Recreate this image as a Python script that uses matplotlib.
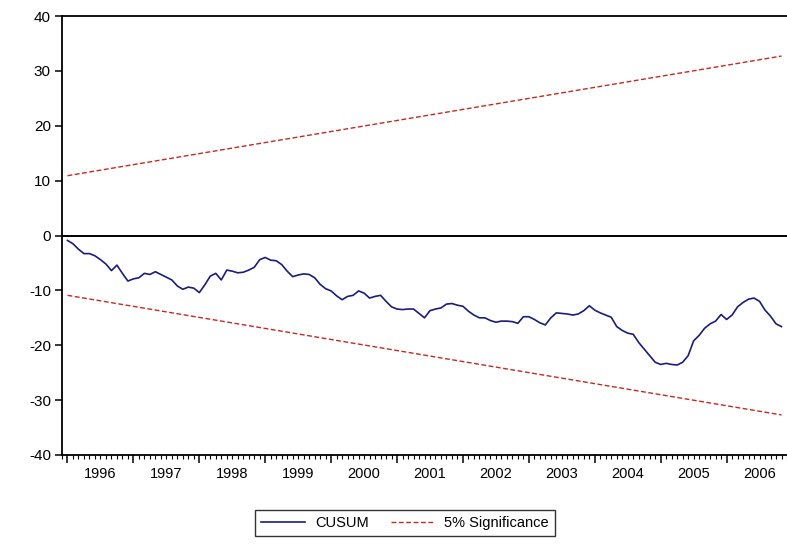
import numpy as np
import matplotlib
matplotlib.use('Agg')
import matplotlib.pyplot as plt
from matplotlib.lines import Line2D

plt.rcParams['font.family'] = ['Liberation Sans', 'DejaVu Sans']
plt.rcParams['axes.unicode_minus'] = False

# monthly CUSUM of recursive residuals, 1996M1 - 2006M11
start_year = 1996
cusum = [
    -0.9, -1.5, -2.5, -3.3, -3.3, -3.7, -4.4, -5.2, -6.4, -5.4, -6.9, -8.3,
    -7.9, -7.7, -6.9, -7.1, -6.6, -7.1, -7.6, -8.1, -9.2, -9.8, -9.4, -9.6,
    -10.4, -9.0, -7.4, -6.9, -8.1, -6.3, -6.5, -6.8, -6.7, -6.3, -5.8, -4.4,
    -4.0, -4.5, -4.6, -5.3, -6.5, -7.5, -7.2, -7.0, -7.1, -7.7, -8.9, -9.7,
    -10.1, -11.0, -11.7, -11.1, -10.9, -10.1, -10.5, -11.4, -11.1, -10.9, -12.0, -13.0,
    -13.4, -13.5, -13.4, -13.4, -14.2, -15.0, -13.7, -13.4, -13.2, -12.5, -12.4, -12.7,
    -12.9, -13.8, -14.5, -15.0, -15.0, -15.5, -15.8, -15.6, -15.6, -15.7, -16.0, -14.8,
    -14.8, -15.3, -15.9, -16.3, -15.0, -14.1, -14.2, -14.3, -14.5, -14.3, -13.7, -12.8,
    -13.6, -14.1, -14.5, -14.9, -16.6, -17.3, -17.8, -18.0, -19.5, -20.7, -21.9, -23.1,
    -23.5, -23.3, -23.5, -23.6, -23.1, -21.9, -19.2, -18.2, -16.9, -16.1, -15.6, -14.4,
    -15.3, -14.5, -13.0, -12.2, -11.6, -11.4, -12.0, -13.6, -14.7, -16.1, -16.6,
]
# 5% significance bounds at the first and last observation
upper_bound = [10.9, 32.7]
lower_bound = [-10.9, -32.7]
years = list(range(1996, 2007))

t = start_year + np.arange(len(cusum)) / 12.0
t_ends = [t[0], t[-1]]

fig = plt.figure(figsize=(7.87, 5.52), dpi=100)
ax = fig.add_axes([62 / 787, 1 - 455 / 552, 1 - 62 / 787, (455 - 16) / 552])

ax.axhline(0, color='black', lw=1.4, zorder=1)
ax.plot(t, cusum, color='#1c1c7a', lw=1.2, zorder=3)
red = '#c22a28'
ax.plot(t_ends, upper_bound, color=red, lw=1.0, dashes=(3.5, 1.8), zorder=2)
ax.plot(t_ends, lower_bound, color=red, lw=1.0, dashes=(3.5, 1.8), zorder=2)

ax.set_xlim(1995.929, 2006.88)
ax.set_ylim(-40, 40)
ax.set_yticks(range(-40, 41, 10))

# year ticks at the start of each year, monthly minor ticks
ax.set_xticks(years)
ax.set_xticklabels([])
ax.set_xticks(start_year + np.arange(-1, 132) / 12.0, minor=True)
ax.tick_params(axis='x', which='major', direction='out', length=6, width=1.1)
ax.tick_params(axis='x', which='minor', direction='out', length=3, width=0.8)
ax.tick_params(axis='y', direction='out', length=5, width=1.1, labelsize=11,
               colors='black', pad=3)

# year labels centred in each year
sec = ax.secondary_xaxis('bottom')
sec.set_xticks([y + 0.5 for y in years])
sec.set_xticklabels([str(y) for y in years])
sec.tick_params(length=0, labelsize=10.5, pad=9)
for s in sec.spines.values():
    s.set_visible(False)

for side in ['left', 'top', 'bottom']:
    ax.spines[side].set_linewidth(1.3)
ax.spines['right'].set_visible(False)

handles = [Line2D([], [], color='#1c1c7a', lw=1.2),
           Line2D([], [], color=red, lw=1.0, dashes=(3.5, 1.8))]
leg = fig.legend(handles, ['CUSUM', '5% Significance'], loc='center',
                 bbox_to_anchor=(405 / 787, 1 - 523 / 552), ncol=2,
                 fontsize=10.5, frameon=True, fancybox=False, handlelength=3.0,
                 columnspacing=1.5, handletextpad=0.7, borderpad=0.4,
                 borderaxespad=0)
leg.get_frame().set_edgecolor('black')
leg.get_frame().set_linewidth(1.0)

fig.savefig('out.png', dpi=100)
